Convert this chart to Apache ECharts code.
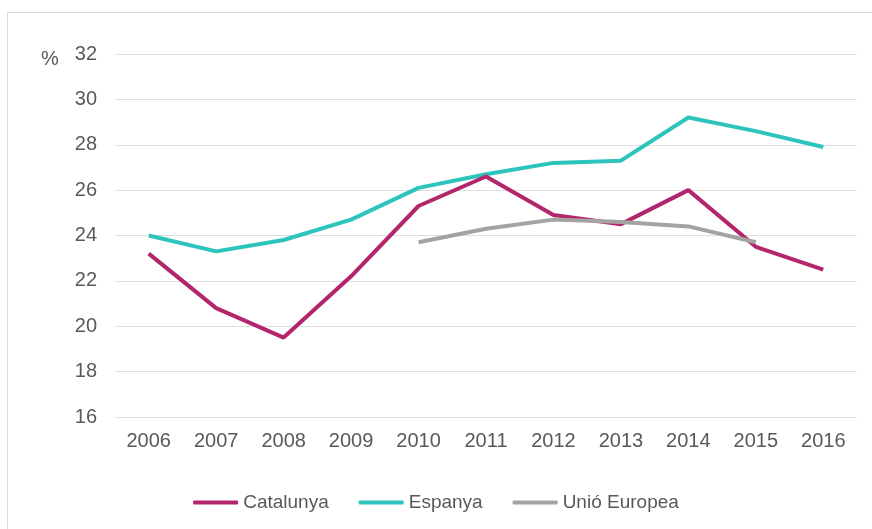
<!DOCTYPE html>
<html><head><meta charset="utf-8">
<script src="https://cdn.jsdelivr.net/npm/echarts@6/dist/echarts.min.js"></script>
<style>html,body{margin:0;padding:0;background:#fff}#c{width:872px;height:529px}</style>
</head><body><div id="c"></div>
<script>
const years = ['2006','2007','2008','2009','2010','2011','2012','2013','2014','2015','2016'];
const catalunya = [23.2, 20.8, 19.5, 22.2, 25.3, 26.6, 24.9, 24.5, 26.0, 23.5, 22.5];
const espanya = [24.0, 23.3, 23.8, 24.7, 26.1, 26.7, 27.2, 27.3, 29.2, 28.6, 27.9];
const unioEuropea = [null, null, null, null, 23.7, 24.3, 24.7, 24.6, 24.4, 23.7, null];
const seriesNames = ['Catalunya', 'Espanya', 'Unió Europea'];
const colors = ['#B3266B', '#2EC4BE', '#A3A3A3'];

const chart = echarts.init(document.getElementById('c'), null, {renderer: 'canvas'});
const font = 'Liberation Sans, Arial, sans-serif';
chart.setOption({
  animation: false,
  backgroundColor: '#fff',
  color: colors,
  graphic: [
    {type: 'rect', shape: {x: 7.5, y: 12.5, width: 875, height: 530}, style: {fill: 'none', stroke: '#d9d9d9', lineWidth: 1}, z: -1},
    {type: 'text', left: 41, top: 49, style: {text: '%', font: '20px ' + font, fill: '#595959'}}
  ],
  legend: {
    bottom: 12, left: 'center',
    itemWidth: 45, itemHeight: 4, itemGap: 30,
    icon: 'roundRect',
    textStyle: {fontFamily: font, fontSize: 19, color: '#595959', padding: [0, 0, 0, 0]},
    data: seriesNames
  },
  grid: {left: 115, right: 15, top: 54, bottom: 112},
  xAxis: {
    type: 'category', data: years, boundaryGap: true,
    axisLine: {show: false}, axisTick: {show: false},
    axisLabel: {fontFamily: font, fontSize: 20, color: '#595959', margin: 14}
  },
  yAxis: {
    type: 'value', min: 16, max: 32, interval: 2,
    axisLine: {show: false}, axisTick: {show: false},
    splitLine: {lineStyle: {color: '#e0e0e0', width: 1}},
    axisLabel: {fontFamily: font, fontSize: 20, color: '#595959', margin: 18}
  },
  series: [
    {name: seriesNames[0], type: 'line', data: catalunya, symbol: 'none', lineStyle: {width: 4, color: colors[0]}, z: 3},
    {name: seriesNames[1], type: 'line', data: espanya, symbol: 'none', lineStyle: {width: 4, color: colors[1]}, z: 2},
    {name: seriesNames[2], type: 'line', data: unioEuropea, symbol: 'none', lineStyle: {width: 4, color: colors[2]}, z: 4}
  ]
});
</script></body></html>
